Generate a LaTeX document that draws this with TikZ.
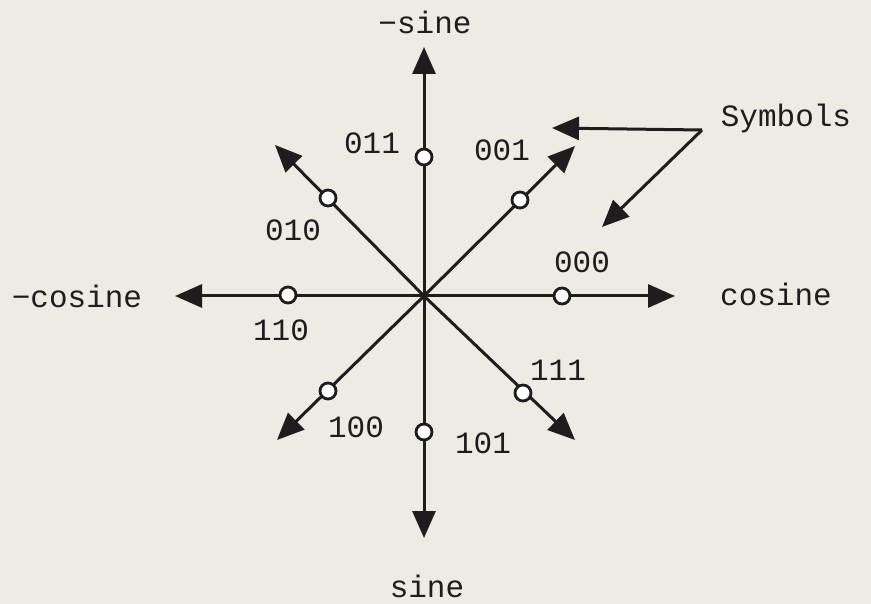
\documentclass[tikz,border=0pt]{standalone}
\usepackage{fontspec}
\setmonofont{Liberation Mono}
\usetikzlibrary{arrows.meta}
\definecolor{paper}{RGB}{236,236,228}
\definecolor{ink}{RGB}{30,28,28}
\begin{document}
\begin{tikzpicture}[x=1pt,y=-1pt,
  axis/.style={draw=ink,line width=3pt,-{Triangle[length=27pt,width=23pt]}},
  sym/.style={circle,draw=ink,fill=white,line width=2.8pt,minimum size=16pt,inner sep=0pt},
  lbl/.style={font=\ttfamily\fontsize{31}{32}\selectfont,text=ink,inner sep=0pt}]
\fill[paper] (0,0) rectangle (871,604);
\useasboundingbox (0,0) rectangle (871,604);
% centre and tips
\coordinate (O) at (424,296);
\coordinate (tN) at (424,47);
\coordinate (tS) at (424,538);
\coordinate (tW) at (175,296);
\coordinate (tE) at (675,296);
\coordinate (tNE) at (575,146);
\coordinate (tNW) at (275,145);
\coordinate (tSW) at (277,440);
\coordinate (tSE) at (575,440);
\foreach \t in {tN,tS,tW,tE,tNE,tNW,tSW,tSE}{\draw[axis] (O) -- (\t);}
% symbol points
\node[sym] (s000) at (562,296) {};
\node[sym] (s001) at (520,200) {};
\node[sym] (s011) at (424,157) {};
\node[sym] (s010) at (328,198) {};
\node[sym] (s110) at (288,295) {};
\node[sym] (s100) at (328,391) {};
\node[sym] (s101) at (424,432) {};
\node[sym] (s111) at (523,393) {};
% labels
\node[lbl] (l000) at (582,262) {000};
\node[lbl] (l001) at (502,150) {001};
\node[lbl] (l011) at (372,143) {011};
\node[lbl] (l010) at (293,230) {010};
\node[lbl] (l110) at (281,330) {110};
\node[lbl] (l100) at (356,427) {100};
\node[lbl] (l101) at (483,443) {101};
\node[lbl] (l111) at (558,370) {111};
\node[lbl] (nsine) at (425,22) {−sine};
\node[lbl] (sine) at (427,586) {sine};
\node[lbl] (ncos) at (77,296) {−cosine};
\node[lbl] (cos) at (776,294) {cosine};
\node[lbl] (symb) at (786,118) {Symbols};
% pointer arrows
\coordinate (pS) at (702,130);
\coordinate (pA) at (552,128);
\coordinate (pB) at (602,227);
\draw[axis] (pS) -- (pA);
\draw[axis] (pS) -- (pB);
\end{tikzpicture}
\end{document}
